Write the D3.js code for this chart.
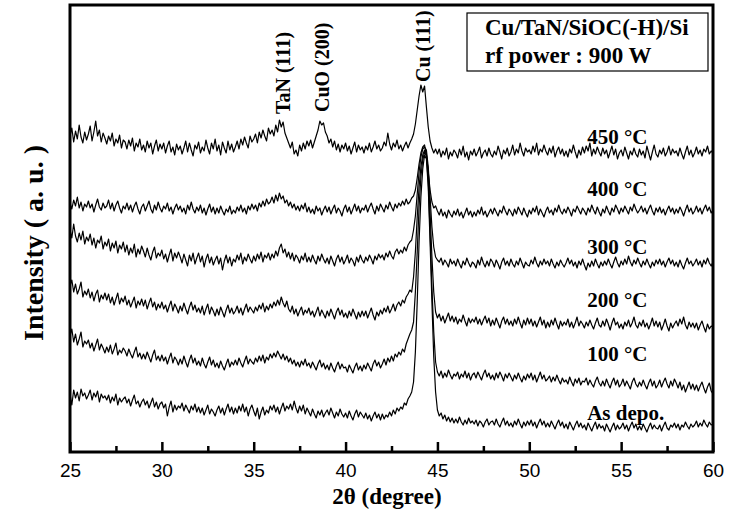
<!DOCTYPE html>
<html>
<head>
<meta charset="utf-8">
<script src="https://cdn.jsdelivr.net/npm/d3@7"></script>
<style>
  html, body { margin: 0; padding: 0; background: #fff; }
  svg { display: block; }
</style>
</head>
<body>
<svg id="chart" width="740" height="526"></svg>
<script>
// ---- 2θ sampling grid (degrees), 0.1° steps from 25 to 60 ----
const twoTheta = d3.range(0, 351).map(i => +(25 + i * 0.1).toFixed(1));

// ---- intensities (a.u., stacked offsets), one row per degree ----
const int450 = [
  316,324,310,321,313,327,315,309,320,312,
  318,326,311,320,331,316,322,310,319,314,
  308,316,311,319,306,313,309,317,304,312,
  310,303,312,306,314,301,309,305,313,302,
  307,300,311,304,309,298,306,312,301,308,
  303,309,299,306,311,300,305,297,308,302,
  306,298,304,311,300,309,302,296,307,303,
  310,299,305,301,312,304,298,309,303,313,
  301,307,297,310,304,299,311,302,308,300,
  305,311,303,313,307,315,309,304,316,310,
  313,318,309,320,314,322,316,311,324,318,
  322,316,327,320,332,325,330,319,314,309,
  304,310,298,302,296,307,301,309,303,311,
  306,312,304,310,316,322,331,327,329,320,
  316,309,313,305,311,302,308,300,307,303,
  309,301,306,298,304,310,300,307,302,305,
  299,306,302,309,300,305,311,303,307,301,
  304,310,306,319,308,302,309,305,312,303,
  307,301,306,310,304,309,313,318,328,342,
  356,367,360,366,345,325,311,304,299,303,
  298,303,295,301,297,304,293,300,296,302,
  299,294,303,297,306,295,300,292,301,297,
  303,296,300,305,294,299,302,296,304,298,
  295,301,297,306,300,293,302,298,304,296,
  300,307,297,303,299,309,301,296,304,300,
  302,298,306,300,309,297,303,300,307,301,
  297,304,299,306,295,301,305,298,303,296,
  301,295,303,299,307,300,294,302,297,305,
  299,306,301,309,296,303,298,305,300,296,
  304,298,302,294,300,306,297,303,293,299,
  302,296,305,299,293,301,297,304,298,295,
  303,297,301,294,306,299,292,300,307,298,
  295,302,298,304,296,300,306,297,303,299,
  301,296,304,298,293,300,306,297,302,295,
  299,305,298,302,296,303,300,306,298,301,
  299
];
const int400 = [
  249,243,252,246,255,244,250,241,248,245,
  251,244,248,240,247,253,245,242,249,244,
  246,252,243,249,241,247,251,244,239,246,
  243,249,242,247,240,246,250,243,238,245,
  248,241,246,251,243,239,247,242,250,244,
  240,246,243,249,241,245,238,244,248,242,
  246,240,244,238,247,242,250,243,239,245,
  241,247,239,244,237,243,248,240,245,238,
  244,239,246,241,237,243,240,246,238,242,
  239,245,241,247,240,244,238,246,242,248,
  243,247,241,249,245,251,246,253,248,250,
  255,249,257,251,259,253,256,249,252,246,
  250,244,248,242,246,241,247,243,249,240,
  245,239,243,238,246,241,244,237,242,246,
  240,245,238,243,247,239,244,241,236,243,
  247,240,245,238,243,248,241,246,239,244,
  242,247,240,245,249,243,238,246,241,248,
  244,240,247,243,250,245,241,248,244,249,
  246,251,247,253,248,250,254,256,262,274,
  288,299,305,307,297,280,262,250,244,246,
  241,237,243,236,240,234,242,238,235,241,
  237,243,236,240,234,239,244,237,241,235,
  240,236,242,238,245,237,241,235,239,243,
  238,244,240,236,242,239,246,241,237,243,
  240,236,243,238,245,241,237,244,239,235,
  242,238,244,240,246,237,243,239,235,241,
  245,239,242,237,244,240,247,241,238,243,
  239,245,241,236,243,240,246,242,238,244,
  241,237,244,240,247,242,238,245,240,236,
  243,239,246,241,237,244,240,247,243,238,
  244,240,246,242,238,245,241,248,243,239,
  242,246,240,244,238,243,247,241,237,244,
  240,245,239,243,237,242,246,240,244,238,
  243,239,245,241,236,242,247,240,244,238,
  241,246,240,244,238,243,247,241,245,239,
  242
];
const int300 = [
  222,214,228,216,210,219,212,221,208,215,
  211,218,207,214,204,212,209,216,203,210,
  206,213,201,209,204,211,199,207,203,210,
  200,207,197,204,199,208,195,203,198,206,
  201,195,204,197,192,200,205,194,199,196,
  202,193,198,190,197,203,191,199,194,200,
  195,189,198,192,186,197,191,199,188,194,
  199,190,196,185,193,198,189,195,187,192,
  196,188,194,182,191,197,189,195,186,193,
  190,197,192,199,188,195,191,198,193,189,
  196,191,198,193,200,190,197,194,199,192,
  198,194,201,196,204,208,199,203,195,200,
  193,199,191,197,194,189,196,192,199,190,
  195,190,197,192,188,196,191,198,193,189,
  194,188,196,191,186,193,197,190,195,188,
  192,197,189,194,191,186,195,190,197,192,
  189,195,191,197,193,188,196,192,198,194,
  197,192,199,195,201,196,193,200,203,198,
  202,199,205,201,207,210,212,222,236,258,
  280,295,303,305,302,285,255,225,205,195,
  192,190,194,187,192,189,185,193,188,191,
  186,193,188,184,191,187,194,189,185,190,
  188,184,192,187,195,189,185,191,186,193,
  190,185,192,188,183,190,194,187,191,186,
  193,188,185,191,187,194,189,184,190,187,
  186,192,188,195,189,185,191,187,193,188,
  191,186,193,188,184,190,186,192,188,185,
  189,194,188,192,186,190,184,191,187,193,
  187,182,189,185,191,186,193,188,184,190,
  186,191,187,193,188,184,190,195,189,185,
  191,187,193,188,196,190,186,192,188,194,
  189,185,191,187,193,188,184,190,186,192,
  188,193,187,191,185,190,194,188,192,186,
  190,185,192,187,183,189,194,188,191,186,
  189,193,187,191,185,192,188,194,189,186,
  190
];
const int200 = [
  166,172,160,168,158,163,170,155,161,157,
  163,154,160,151,158,162,150,157,153,159,
  152,158,149,155,147,153,159,148,154,150,
  156,147,152,145,150,155,144,151,147,153,
  146,152,143,149,154,145,150,142,148,144,
  150,143,147,140,146,151,141,148,144,139,
  146,141,149,143,138,145,150,142,147,140,
  144,139,146,137,143,148,138,145,141,136,
  143,137,145,140,135,142,147,139,144,138,
  141,146,139,144,137,143,148,140,145,142,
  139,145,141,147,143,149,140,146,142,148,
  144,150,146,152,147,155,149,145,151,143,
  140,146,138,143,136,141,145,137,142,139,
  144,137,141,135,140,145,136,142,138,134,
  141,136,143,138,133,140,144,137,142,135,
  139,134,141,136,143,138,133,140,135,141,
  136,141,134,139,144,137,132,140,136,142,
  138,144,140,146,139,143,148,141,147,150,
  146,152,149,155,158,162,160,175,200,235,
  265,285,297,302,298,280,240,195,160,140,
  134,138,131,136,129,134,139,131,136,130,
  135,128,133,130,137,131,126,134,129,133,
  130,135,128,133,127,132,136,129,134,126,
  132,127,134,129,124,131,135,128,133,127,
  131,126,133,128,135,129,124,132,127,134,
  128,133,126,131,125,130,135,127,132,124,
  130,125,132,127,134,128,123,131,126,130,
  127,133,125,130,124,129,135,126,131,128,
  124,130,126,132,127,123,129,134,127,125,
  131,126,133,128,122,129,134,127,130,124,
  128,123,130,126,132,125,129,135,127,124,
  130,126,132,125,129,123,128,134,126,131,
  125,130,122,127,133,126,121,129,124,128,
  131,126,133,128,135,127,123,130,125,129,
  124,129,122,127,131,125,120,128,123,126,
  125
];
const int100 = [
  116,123,110,118,107,113,120,105,111,108,
  112,104,109,101,107,113,102,108,104,99,
  105,100,107,98,103,109,97,102,99,104,
  101,96,103,98,94,100,105,95,99,93,
  98,93,100,95,90,97,102,92,96,91,
  97,91,95,88,94,99,89,95,92,87,
  93,88,96,90,85,92,97,89,94,87,
  91,86,94,88,84,90,95,87,92,85,
  89,84,91,86,82,88,93,85,90,87,
  92,87,94,89,85,91,96,88,93,90,
  88,94,90,96,91,97,89,95,92,98,
  94,99,95,101,97,93,98,92,96,90,
  94,88,92,86,90,85,91,87,93,86,
  89,84,90,86,82,88,92,85,89,83,
  87,82,89,84,80,86,90,83,88,84,
  85,80,87,83,79,85,89,82,86,81,
  87,83,89,85,81,88,92,86,90,84,
  88,93,87,94,90,96,91,98,95,100,
  97,103,100,108,113,118,122,130,160,200,
  245,275,292,300,296,270,220,165,120,90,
  80,76,81,74,79,75,82,77,73,78,
  76,80,73,78,75,81,74,79,72,77,
  79,74,80,76,72,78,82,75,79,73,
  77,72,79,74,80,76,71,78,74,79,
  75,71,77,73,79,74,70,76,72,78,
  74,79,72,77,70,75,80,73,77,71,
  73,76,70,75,71,77,72,68,74,70,
  72,68,75,70,66,73,69,74,67,71,
  70,74,67,72,68,65,71,75,69,66,
  71,66,73,68,64,70,74,67,72,65,
  68,73,66,71,67,63,70,74,68,65,
  70,66,72,67,63,69,73,66,71,64,
  67,72,65,70,74,68,64,71,66,73,
  69,64,70,62,67,60,65,70,63,68,
  62,67,61,66,70,64,59,65,69,61,
  58
];
const intAsDepo = [
  58,47,62,54,60,51,63,56,59,53,
  57,62,52,59,55,61,50,58,54,56,
  52,57,49,55,51,58,47,54,50,53,
  55,49,53,46,52,57,48,51,45,50,
  53,47,51,44,49,54,45,50,43,48,
  50,44,48,36,45,51,40,47,42,46,
  44,49,41,47,43,39,46,42,48,40,
  45,39,44,37,42,47,38,43,40,36,
  42,46,39,44,37,43,48,40,45,38,
  44,39,46,41,48,40,45,36,43,47,
  41,36,44,33,40,45,37,42,39,46,
  42,47,40,45,38,44,49,41,46,43,
  48,42,51,44,39,46,41,47,38,44,
  40,36,43,38,34,41,37,42,35,39,
  42,37,44,39,34,40,36,43,38,35,
  39,34,41,36,32,38,42,35,40,37,
  34,39,33,37,31,36,40,34,38,32,
  38,33,37,35,40,36,42,38,44,41,
  45,43,49,47,53,56,60,70,100,150,
  210,255,283,297,293,265,210,150,95,60,
  42,36,39,33,37,31,35,30,34,29,
  33,29,35,30,27,32,28,34,29,31,
  28,32,26,31,29,25,30,33,27,30,
  31,27,33,28,25,30,34,27,31,26,
  29,25,31,27,33,28,24,30,26,31,
  27,32,26,30,24,29,33,27,31,25,
  29,25,31,27,23,28,32,26,30,24,
  28,23,30,26,22,27,31,25,29,24,
  27,22,29,25,21,26,30,23,28,24,
  26,21,28,24,20,25,29,22,27,23,
  25,29,23,27,21,26,30,24,28,22,
  26,22,28,24,20,25,29,23,27,24,
  23,27,21,26,30,24,22,27,25,29,
  24,28,22,27,25,30,26,23,28,25,
  27,31,25,29,26,32,28,25,30,27,
  28
];

const seriesNames = ["450 °C", "400 °C", "300 °C", "200 °C", "100 °C", "As depo."];
const seriesValues = [int450, int400, int300, int200, int100, intAsDepo];
const seriesLabelY = [308, 256, 198, 145, 91, 32];   // label baseline, in intensity units

const majorTicks = [25, 30, 35, 40, 45, 50, 55, 60];
const minorTicks = [27.5, 32.5, 37.5, 42.5, 47.5, 52.5, 57.5];

const peakLabels = ["TaN (111)", "CuO (200)", "Cu (111)"];
const peakPos = [36.6, 38.7, 44.2];
const peakLabelStart = [338, 340, 370]; // intensity where vertical text starts

const infoLines = ["Cu/TaN/SiOC(-H)/Si", "rf power : 900 W"];

// ---- layout ----
const svg = d3.select("#chart");
const plotL = 70, plotR = 713, plotT = 5, plotB = 452;
const x = d3.scaleLinear().domain([25, 60]).range([plotL, plotR]);
const y = d3.scaleLinear().domain([0, 447]).range([plotB, plotT]);
const serif = "'Liberation Serif','Times New Roman',Times,serif";
const sans = "'Liberation Sans',Arial,Helvetica,sans-serif";

// curves
const line = d3.line().x(d => x(d[0])).y(d => y(d[1]));
seriesValues.forEach((vals, k) => {
  if (vals.length !== twoTheta.length) console.error("length mismatch", seriesNames[k], vals.length, twoTheta.length);
  const pts = twoTheta.map((t, i) => [t, vals[i]]).filter(p => p[1] !== undefined);
  svg.append("path")
    .datum(pts)
    .attr("d", line)
    .attr("fill", "none")
    .attr("stroke", "#000")
    .attr("stroke-width", 1.2)
    .attr("stroke-linejoin", "round");
});

// series labels
seriesNames.forEach((n, k) => {
  svg.append("text")
    .attr("x", x(53.15))
    .attr("y", y(seriesLabelY[k]))
    .attr("font-family", serif)
    .attr("font-weight", "bold")
    .attr("font-size", 21)
    .text(n);
});

// peak labels (vertical)
peakLabels.forEach((n, k) => {
  const px = x(peakPos[k]) + 7, py = y(peakLabelStart[k]);
  svg.append("text")
    .attr("transform", `translate(${px},${py}) rotate(-90)`)
    .attr("font-family", serif)
    .attr("font-weight", "bold")
    .attr("font-size", 20)
    .text(n);
});

// info box
svg.append("rect")
  .attr("x", 467).attr("y", 13).attr("width", 241).attr("height", 58)
  .attr("fill", "#fff").attr("stroke", "#000").attr("stroke-width", 1.2);
infoLines.forEach((t, i) => {
  svg.append("text")
    .attr("x", 485).attr("y", 35 + i * 28)
    .attr("font-family", serif).attr("font-weight", "bold").attr("font-size", 23)
    .text(t);
});

// x axis (ticks inward)
const axis = svg.append("g").attr("transform", `translate(0,${plotB})`)
  .call(d3.axisBottom(x).tickValues(majorTicks).tickSize(-10).tickPadding(12).tickFormat(d3.format("d")));
axis.select(".domain").remove();
axis.selectAll(".tick line").attr("stroke-width", 2.5);
axis.selectAll("text").attr("font-family", sans).attr("font-size", 19).attr("fill", "#000");
const axisMinor = svg.append("g").attr("transform", `translate(0,${plotB})`)
  .call(d3.axisBottom(x).tickValues(minorTicks).tickSize(-6).tickFormat(""));
axisMinor.select(".domain").remove();
axisMinor.selectAll(".tick line").attr("stroke-width", 2.5);

// frame
svg.append("rect")
  .attr("x", plotL).attr("y", plotT).attr("width", plotR - plotL).attr("height", plotB - plotT)
  .attr("fill", "none").attr("stroke", "#000").attr("stroke-width", 3);

// axis titles
svg.append("text")
  .attr("x", 387).attr("y", 504)
  .attr("text-anchor", "middle")
  .attr("font-family", serif).attr("font-weight", "bold").attr("font-size", 23)
  .text("2θ (degree)");
svg.append("text")
  .attr("transform", "translate(43,243) rotate(-90)")
  .attr("text-anchor", "middle")
  .attr("font-family", serif).attr("font-weight", "bold").attr("font-size", 28)
  .text("Intensity ( a. u. )");
</script>
</body>
</html>
